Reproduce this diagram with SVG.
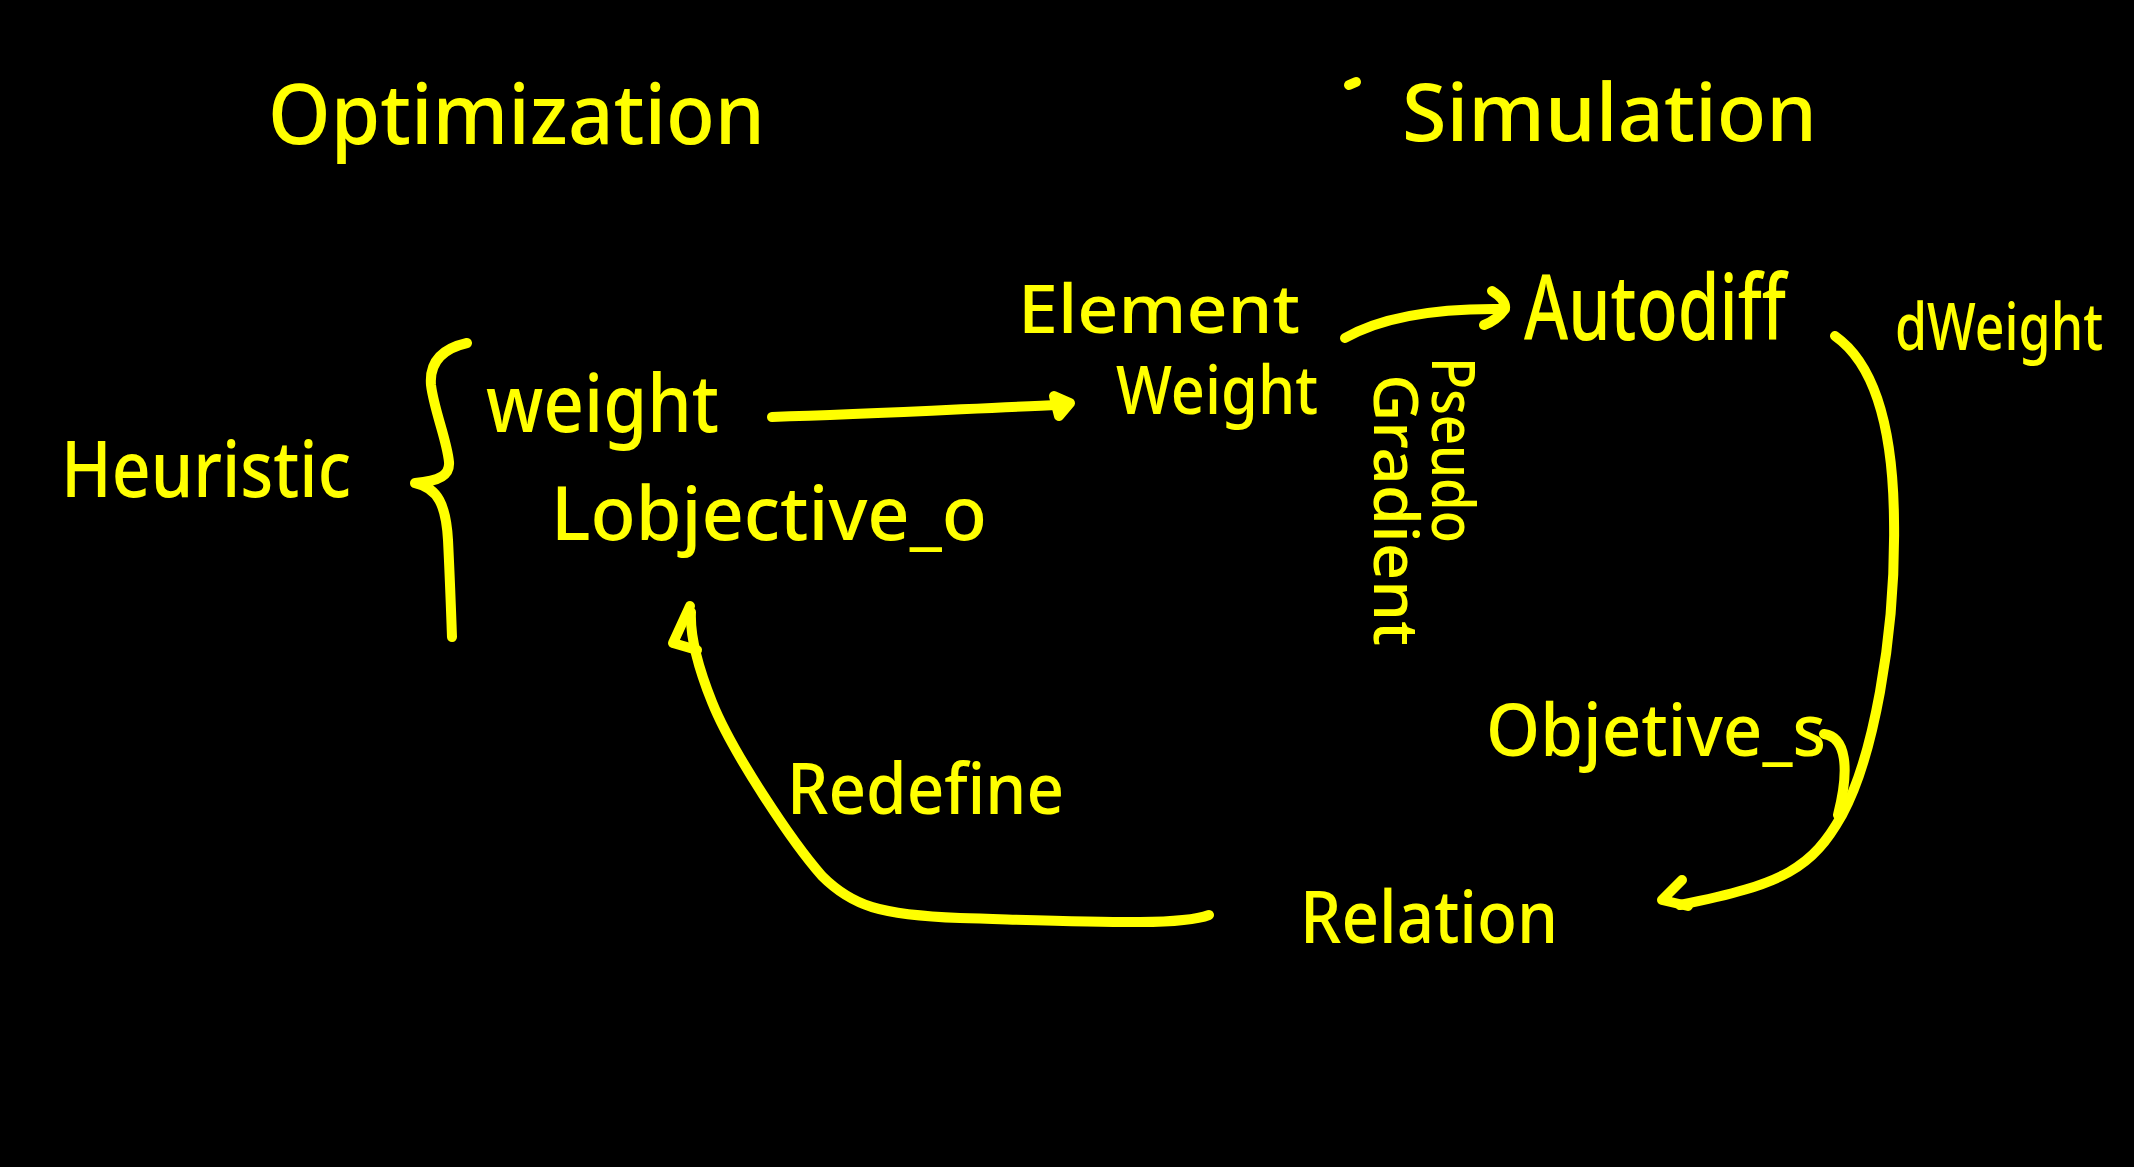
<svg xmlns="http://www.w3.org/2000/svg" width="2134" height="1167" viewBox="0 0 2134 1167">
<style>
.t{font-family:"Noto Sans","DejaVu Sans",sans-serif;font-weight:500;fill:#FFFF00}
.s{fill:none;stroke:#FFFF00;stroke-width:10;stroke-linecap:round;stroke-linejoin:round}
</style>
<rect width="2134" height="1167" fill="#000"/>
<g id="titles">
<text class="t" x="268" y="144" font-size="84" textLength="497" lengthAdjust="spacingAndGlyphs">Optimization</text>
<path class="s" d="M1349,85 L1356,82" stroke-width="4"/>
<text class="t" x="1402" y="141" font-size="80" textLength="415" lengthAdjust="spacingAndGlyphs">Simulation</text>
</g>
<g id="heuristic">
<text class="t" x="61" y="497" font-size="78" textLength="290" lengthAdjust="spacingAndGlyphs">Heuristic</text>
<path class="s" d="M467,343 C445,348 429,360 431,385 C434,410 447,440 449,462 C450,475 440,481 415,483 C438,488 446,505 448,540 C450,580 451,610 452,637"/>
</g>
<g id="weight">
<text class="t" x="486" y="432" font-size="80" textLength="233" lengthAdjust="spacingAndGlyphs">weight</text>
</g>
<g id="objective_o">
<text class="t" x="551" y="540" font-size="74" textLength="436" lengthAdjust="spacingAndGlyphs">Lobjective_o</text>
</g>
<g id="element_weight">
<text class="t" x="1018" y="333" font-size="68" textLength="282" lengthAdjust="spacingAndGlyphs">Element</text>
<text class="t" x="1116" y="414" font-size="68" textLength="202" lengthAdjust="spacingAndGlyphs">Weight</text>
</g>
<g id="autodiff">
<text class="t" x="1524" y="340" font-size="90" textLength="262" lengthAdjust="spacingAndGlyphs">Autodiff</text>
</g>
<g id="dweight">
<text class="t" x="1895" y="350" font-size="66" textLength="208" lengthAdjust="spacingAndGlyphs">dWeight</text>
</g>
<g id="pseudo_gradient">
<text class="t" transform="translate(1432,357) rotate(90)" font-size="60" textLength="186" lengthAdjust="spacingAndGlyphs">Pseudo</text>
<text class="t" transform="translate(1374,374) rotate(90)" font-size="62" textLength="272" lengthAdjust="spacingAndGlyphs">Gradient</text>
</g>
<g id="objective_s">
<text class="t" x="1486" y="756" font-size="72" textLength="340" lengthAdjust="spacingAndGlyphs">Objetive_s</text>
</g>
<g id="relation">
<text class="t" x="1300" y="943" font-size="72" textLength="258" lengthAdjust="spacingAndGlyphs">Relation</text>
</g>
<g id="redefine">
<text class="t" x="787" y="814" font-size="70" textLength="277" lengthAdjust="spacingAndGlyphs">Redefine</text>
</g>
<g id="connectors">
<path class="s" d="M772,417 C880,414 980,408 1060,405"/>
<path class="s" d="M1054,396 L1070,403 L1059,416 Z"/>
<path class="s" d="M1345,338 C1380,318 1430,308 1503,309"/>
<path class="s" d="M1492,291 C1500,296 1506,302 1505,309 C1500,316 1492,322 1484,325"/>
<path class="s" d="M1835,336 C1872,362 1893,420 1894,520 C1896,640 1872,760 1842,815 C1812,868 1785,884 1680,905"/>
<path class="s" d="M1682,880 L1662,900 L1688,906"/>
<path class="s" d="M1824,734 C1846,737 1850,768 1838,815"/>
<path class="s" d="M1209,915 C1180,926 1100,922 960,918 C880,915 852,906 822,876 C792,842 732,752 712,702 C696,662 690,632 691,612"/>
<path class="s" d="M690,606 L673,643 L697,650"/>
</g>
</svg>
